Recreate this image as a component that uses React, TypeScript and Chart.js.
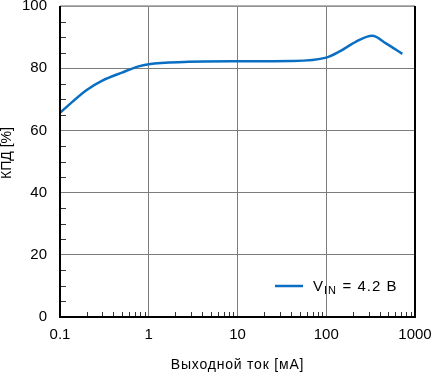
import React, { useEffect, useRef } from 'react';
import { Chart, registerables } from 'chart.js';

Chart.register(...registerables);

// ---- data ----
const currentMA = [0.1, 0.2, 0.3, 0.5, 0.75, 1, 2.5, 10, 40, 100, 140, 215, 330, 470, 720];
const efficiency = [65.7, 73.0, 76.0, 78.6, 80.5, 81.3, 82.0, 82.2, 82.3, 83.4, 85.3, 88.5, 90.4, 88.0, 84.6];

const xDecades = [0.1, 1, 10, 100];
const xMinorMultipliers = [1, 2, 3, 4, 5, 6, 7, 8, 9];
const xMajorTicks = [0.1, 1, 10, 100, 1000];
const xTickLabels = ['0.1', '1', '10', '100', '1000'];

const yMajorTicks = [0, 20, 40, 60, 80, 100];
const yTickLabels = ['0', '20', '40', '60', '80', '100'];

const xTitle = 'Выходной ток [мА]';
const yTitle = 'КПД [%]';
const legendMain = 'V';
const legendSub = 'IN';
const legendRest = '= 4.2 В';

// ---- styles ----
const FONT = "'Liberation Sans', Arial, Helvetica, sans-serif";
const LINE_COLOR = '#0a6fc2';
const GRID_COLOR = '#7c7c7c';

const xTickValues: number[] = [];
xDecades.forEach((d) => xMinorMultipliers.forEach((m) => xTickValues.push(+(d * m).toPrecision(6))));
xTickValues.push(1000);

const majorIndexX = (v: number) => xMajorTicks.findIndex((m) => Math.abs(m - v) < m * 1e-6);
const majorIndexY = (v: number) => yMajorTicks.findIndex((m) => Math.abs(m - v) < 1e-6);

const framePlugin = {
  id: 'frame',
  afterDraw(chart: any) {
    const { ctx, chartArea, scales } = chart;
    const { left, right, top, bottom } = chartArea;
    const x = scales.x;
    const y = scales.y;
    const line = (x1: number, y1: number, x2: number, y2: number) => {
      ctx.beginPath();
      ctx.moveTo(x1, y1);
      ctx.lineTo(x2, y2);
      ctx.stroke();
    };
    ctx.save();
    // minor inside ticks
    ctx.strokeStyle = '#333';
    ctx.lineWidth = 1;
    x.ticks.forEach((t: any) => {
      if (majorIndexX(t.value) < 0) {
        const px = Math.round(x.getPixelForValue(t.value)) + 0.5;
        line(px, bottom, px, bottom - 5);
      }
    });
    y.ticks.forEach((t: any) => {
      if (majorIndexY(t.value) < 0) {
        const py = Math.round(y.getPixelForValue(t.value)) + 0.5;
        line(left, py, left + 6, py);
      }
    });
    // top border
    ctx.strokeStyle = '#999';
    ctx.lineWidth = 1.5;
    line(left, top, right, top);
    // left / bottom / right borders
    ctx.strokeStyle = '#000';
    ctx.lineWidth = 2;
    ctx.beginPath();
    ctx.moveTo(left, top);
    ctx.lineTo(left, bottom);
    ctx.lineTo(right, bottom);
    ctx.lineTo(right, top);
    ctx.stroke();

    // axis titles
    ctx.fillStyle = '#000';
    ctx.textAlign = 'center';
    ctx.textBaseline = 'middle';
    ctx.font = `14px ${FONT}`;
    (ctx as any).letterSpacing = '0.8px';
    ctx.fillText(xTitle, (left + right) / 2, 365);
    (ctx as any).letterSpacing = '0px';
    ctx.save();
    ctx.translate(7, 153);
    ctx.rotate(-Math.PI / 2);
    ctx.fillText(yTitle, 0, 0);
    ctx.restore();

    // legend
    const lx = right - 140;
    const ly = bottom - 31;
    ctx.strokeStyle = LINE_COLOR;
    ctx.lineWidth = 2.5;
    line(lx, ly, lx + 28, ly);
    ctx.fillStyle = '#000';
    ctx.textBaseline = 'alphabetic';
    ctx.textAlign = 'left';
    const base = bottom - 26;
    (ctx as any).letterSpacing = '1px';
    ctx.font = `15px ${FONT}`;
    ctx.fillText(legendMain, right - 102, base);
    ctx.font = `11px ${FONT}`;
    ctx.fillText(legendSub, right - 91, base + 2.5);
    ctx.font = `15px ${FONT}`;
    ctx.fillText(legendRest, right - 72.5, base);
    (ctx as any).letterSpacing = '0px';
    ctx.restore();
  },
};

export default function App() {
  const ref = useRef<HTMLCanvasElement>(null);
  useEffect(() => {
    Chart.defaults.font.family = FONT;
    const chart = new Chart(ref.current!, {
      type: 'line',
      data: {
        datasets: [
          {
            data: currentMA.map((x, i) => ({ x, y: efficiency[i] })),
            borderColor: LINE_COLOR,
            borderWidth: 2.5,
            pointRadius: 0,
            cubicInterpolationMode: 'monotone',
            fill: false,
          },
        ],
      },
      options: {
        animation: false,
        responsive: false,
        devicePixelRatio: 1,
        layout: { padding: { top: 6, right: 19, left: 0, bottom: 0 } },
        plugins: { legend: { display: false }, tooltip: { enabled: false } },
        scales: {
          x: {
            type: 'logarithmic',
            min: 0.1,
            max: 1000,
            border: { display: false },
            grid: {
              drawTicks: false,
              lineWidth: 1,
              color: (c: any) => (c.tick && majorIndexX(c.tick.value) >= 0 ? GRID_COLOR : 'rgba(0,0,0,0)'),
            },
            afterBuildTicks: (s: any) => {
              s.ticks = xTickValues.map((v) => ({ value: v }));
            },
            ticks: {
              autoSkip: false,
              maxRotation: 0,
              minRotation: 0,
              padding: 9,
              color: '#000',
              font: { size: 15 },
              callback: (v: any) => {
                const i = majorIndexX(Number(v));
                return i >= 0 ? xTickLabels[i] : '';
              },
            },
            afterFit: (s: any) => {
              s.height = 56;
              s.paddingLeft = 0;
              s.paddingRight = 0;
            },
          },
          y: {
            min: 0,
            max: 100,
            border: { display: false },
            grid: {
              drawTicks: false,
              lineWidth: 1,
              color: (c: any) => (c.tick && majorIndexY(c.tick.value) >= 0 ? GRID_COLOR : 'rgba(0,0,0,0)'),
            },
            ticks: {
              stepSize: 5,
              autoSkip: false,
              padding: 13,
              color: '#000',
              font: { size: 15 },
              callback: (v: any) => {
                const i = majorIndexY(Number(v));
                return i >= 0 ? yTickLabels[i] : '';
              },
            },
            afterFit: (s: any) => {
              s.width = 60;
              s.paddingTop = 0;
              s.paddingBottom = 0;
            },
          },
        },
      },
      plugins: [framePlugin],
    } as any);
    return () => chart.destroy();
  }, []);

  return (
    <div style={{ position: 'fixed', left: 0, top: 0, width: 434, height: 373, background: '#fff' }}>
      <canvas ref={ref} width={434} height={373} style={{ width: 434, height: 373, display: 'block' }} />
    </div>
  );
}
